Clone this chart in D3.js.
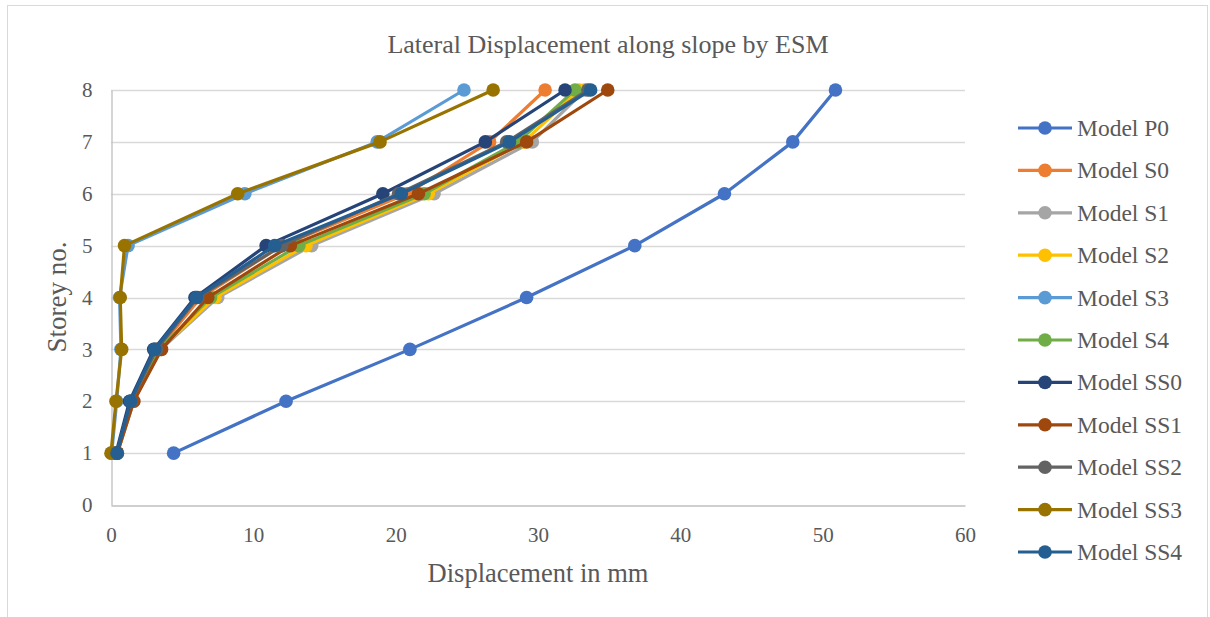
<!DOCTYPE html>
<html>
<head>
<meta charset="utf-8">
<script src="https://cdn.jsdelivr.net/npm/d3@7"></script>
<style>
  body { margin: 0; background: #fff; }
  text { font-family: "Liberation Serif", "Times New Roman", serif; fill: #595959; }
</style>
</head>
<body>
<div id="chart"></div>
<script>
// storeys 1..8
var storeys = [1, 2, 3, 4, 5, 6, 7, 8];
var xTicks = [0, 10, 20, 30, 40, 50, 60];
var yTicks = [0, 1, 2, 3, 4, 5, 6, 7, 8];

var seriesNames = ["Model P0", "Model S0", "Model S1", "Model S2", "Model S3", "Model S4",
                   "Model SS0", "Model SS1", "Model SS2", "Model SS3", "Model SS4"];

// displacement in mm per storey
var modelP0  = [4.4, 12.3, 21.0, 29.2, 36.8, 43.1, 47.9, 50.9];
var modelS0  = [0.4, 1.4, 3.3, 6.3, 12.0, 20.8, 26.6, 30.5];
var modelS1  = [0.45, 1.6, 3.5, 7.5, 14.1, 22.7, 29.6, 33.3];
var modelS2  = [0.45, 1.55, 3.45, 7.3, 13.7, 22.3, 29.0, 32.9];
var modelS3  = [0.05, 0.4, 0.7, 0.6, 1.2, 9.4, 18.7, 24.8];
var modelS4  = [0.42, 1.5, 3.4, 7.0, 13.2, 22.0, 28.6, 32.6];
var modelSS0 = [0.35, 1.3, 3.0, 5.9, 10.9, 19.1, 26.3, 31.9];
var modelSS1 = [0.45, 1.6, 3.55, 6.8, 12.6, 21.6, 29.2, 34.9];
var modelSS2 = [0.4, 1.4, 3.2, 6.1, 12.0, 20.2, 27.8, 33.5];
var modelSS3 = [0.0, 0.35, 0.75, 0.65, 0.95, 8.9, 18.9, 26.85];
var modelSS4 = [0.42, 1.37, 3.07, 6.0, 11.5, 20.4, 28.0, 33.7];

var seriesValues = [modelP0, modelS0, modelS1, modelS2, modelS3, modelS4,
                    modelSS0, modelSS1, modelSS2, modelSS3, modelSS4];

var colors = ["#4472C4", "#ED7D31", "#A5A5A5", "#FFC000", "#5B9BD5", "#70AD47",
              "#264478", "#9E480E", "#636363", "#997300", "#255E91"];

var W = 1210, H = 617;
var plot = {left: 111, right: 965, top: 90, bottom: 505};

var svg = d3.select("#chart").append("svg")
  .attr("width", W)
  .attr("height", H);

// chart frame
svg.append("rect")
  .attr("x", 7.5).attr("y", 5.5)
  .attr("width", 1200).attr("height", 640)
  .attr("fill", "none")
  .attr("stroke", "#D9D9D9");

var x = d3.scaleLinear().domain([0, 60]).range([plot.left, plot.right]);
var y = d3.scaleLinear().domain([0, 8]).range([plot.bottom, plot.top]);

// gridlines
svg.append("g")
  .selectAll("line")
  .data(yTicks.slice(1))
  .enter().append("line")
    .attr("x1", plot.left).attr("x2", plot.right)
    .attr("y1", function(d) { return Math.round(y(d)) + 0.5; })
    .attr("y2", function(d) { return Math.round(y(d)) + 0.5; })
    .attr("stroke", "#D9D9D9")
    .attr("stroke-width", 1.3);

// axes
var xAxis = svg.append("g")
  .attr("transform", "translate(0," + (Math.round(plot.bottom) + 0.5) + ")")
  .call(d3.axisBottom(x).tickValues(xTicks).tickSize(0).tickPadding(22));
xAxis.select(".domain").attr("stroke", "#BFBFBF").attr("stroke-width", 1.3);
xAxis.selectAll("text").style("font-size", "21px").style("font-family", "Liberation Serif").attr("fill", "#595959");

var yAxis = svg.append("g")
  .attr("transform", "translate(" + (plot.left + 0.5) + ",0)")
  .call(d3.axisLeft(y).tickValues(yTicks).tickSize(0).tickPadding(19));
yAxis.select(".domain").attr("stroke", "#BFBFBF").attr("stroke-width", 1.3);
yAxis.selectAll("text").style("font-size", "21px").style("font-family", "Liberation Serif").attr("fill", "#595959");

// titles
svg.append("text")
  .attr("x", 608).attr("y", 53)
  .attr("text-anchor", "middle")
  .style("font-size", "26px")
  .text("Lateral Displacement along slope by ESM");

svg.append("text")
  .attr("x", 538).attr("y", 582)
  .attr("text-anchor", "middle")
  .style("font-size", "26.5px")
  .text("Displacement in mm");

svg.append("text")
  .attr("transform", "translate(66,297) rotate(-90)")
  .attr("text-anchor", "middle")
  .style("font-size", "27px")
  .text("Storey no.");

// series
var line = d3.line()
  .x(function(d) { return x(d.v); })
  .y(function(d) { return y(d.s); });

seriesValues.forEach(function(vals, i) {
  var pts = vals.map(function(v, j) { return {v: v, s: storeys[j]}; });
  var g = svg.append("g");
  g.append("path")
    .datum(pts)
    .attr("d", line)
    .attr("fill", "none")
    .attr("stroke", colors[i])
    .attr("stroke-width", 3.2)
    .attr("stroke-linejoin", "round");
  g.selectAll("circle")
    .data(pts)
    .enter().append("circle")
      .attr("cx", function(d) { return x(d.v); })
      .attr("cy", function(d) { return y(d.s); })
      .attr("r", 6.8)
      .attr("fill", colors[i]);
});

// legend
var legend = svg.append("g").selectAll("g")
  .data(seriesNames)
  .enter().append("g")
    .attr("transform", function(d, i) { return "translate(1018," + (128 + i * 42.4) + ")"; });

legend.append("line")
  .attr("x1", 0).attr("x2", 54)
  .attr("stroke", function(d, i) { return colors[i]; })
  .attr("stroke-width", 3.2);
legend.append("circle")
  .attr("cx", 27).attr("r", 6.8)
  .attr("fill", function(d, i) { return colors[i]; });
legend.append("text")
  .attr("x", 59).attr("y", 8)
  .style("font-size", "23.5px")
  .text(function(d) { return d; });
</script>
</body>
</html>
